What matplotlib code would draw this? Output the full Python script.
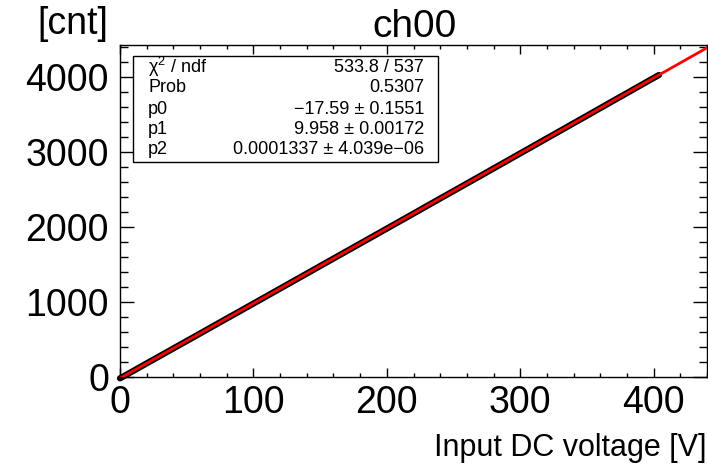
import numpy as np
import matplotlib
matplotlib.use("Agg")
import matplotlib.pyplot as plt
from matplotlib.ticker import MultipleLocator

plt.rcParams['font.family'] = ['Liberation Sans', 'DejaVu Sans']
plt.rcParams['mathtext.fontset'] = 'custom'
plt.rcParams['mathtext.rm'] = 'Liberation Sans'
plt.rcParams['mathtext.it'] = 'Liberation Sans'

# measured points (input voltage [V], ADC counts)
voltage = [0, 10, 20, 30, 40, 50, 60, 70, 80, 90, 100, 110, 120, 130, 140,
           150, 160, 170, 180, 190, 200, 210, 220, 230, 240, 250, 260, 270,
           280, 290, 300, 310, 320, 330, 340, 350, 360, 370, 380, 390, 400, 404]
counts = [-18, 82, 182, 281, 381, 480, 580, 680, 780, 879, 979, 1079, 1179,
          1279, 1379, 1479, 1579, 1679, 1779, 1879, 1979, 2079, 2179, 2280,
          2380, 2480, 2580, 2680, 2781, 2881, 2982, 3082, 3183, 3283, 3384,
          3484, 3585, 3686, 3786, 3887, 3987, 4027]

# fit result pol2 (p0, p1, p2)
p0, p1, p2 = -17.59, 9.958, 0.0001337
fit_x = np.array([0, 440])

stat_names = ["\u03c7$^{2}$ / ndf", "Prob", "p0", "p1", "p2"]
stat_values = ["533.8 / 537", "0.5307", "\u221217.59 \u00b1 0.1551",
               "9.958 \u00b1 0.00172", "0.0001337 \u00b1 4.039e\u221206"]

W, H = 708, 467
fig = plt.figure(figsize=(W / 100, H / 100), dpi=100)
ax = fig.add_axes([120 / W, (H - 377) / H, 587 / W, 332 / H])

ax.plot(voltage, counts, color='black', lw=4.5, solid_capstyle='round',
        clip_on=False, zorder=2)
xs = np.linspace(fit_x[0], fit_x[1], 200)
ax.plot(xs, p0 + p1 * xs + p2 * xs ** 2, color='red', lw=2, zorder=3)

ax.set_xlim(0, 440)
ax.set_ylim(0, 4427)
ax.xaxis.set_major_locator(MultipleLocator(100))
ax.xaxis.set_minor_locator(MultipleLocator(20))
ax.yaxis.set_major_locator(MultipleLocator(1000))
ax.yaxis.set_minor_locator(MultipleLocator(200))

ax.tick_params(axis='both', which='both', direction='in', top=True, right=True,
               labelsize=27, width=1)
ax.tick_params(axis='x', which='major', length=6.5, pad=6)
ax.tick_params(axis='x', which='minor', length=3.2)
ax.tick_params(axis='y', which='major', length=10, pad=8)
ax.tick_params(axis='y', which='minor', length=6)
for s in ax.spines.values():
    s.set_linewidth(1)

# stats box
bx0, by0, bx1, by1 = 133, 56, 438, 162
box = plt.Rectangle((bx0 / W, 1 - by1 / H), (bx1 - bx0) / W, (by1 - by0) / H,
                    transform=fig.transFigure, facecolor='white',
                    edgecolor='black', lw=1, zorder=5)
fig.add_artist(box)
row_y = [67, 88, 109, 130, 150]
for name, val, y in zip(stat_names, stat_values, row_y):
    fig.text(148 / W, 1 - y / H, name, fontsize=13, ha='left', va='center', zorder=6)
    fig.text(424 / W, 1 - y / H, val, fontsize=13, ha='right', va='center', zorder=6)

fig.text(414 / W, 1 - 27 / H, "ch00", fontsize=28, ha='center', va='center')
fig.text(108 / W, 1 - 24 / H, "[cnt]", fontsize=27, ha='right', va='center')
fig.text(706 / W, 1 - 448 / H, "Input DC voltage [V]", fontsize=22,
         ha='right', va='center')

fig.savefig('out.png', dpi=100)
